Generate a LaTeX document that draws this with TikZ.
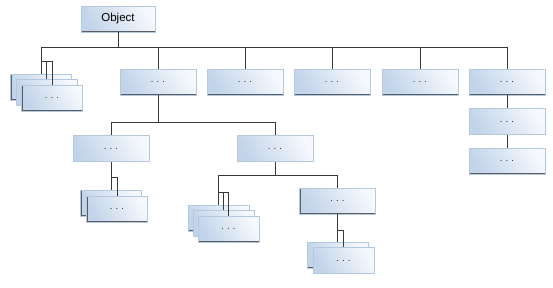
\documentclass[tikz,border=0pt]{standalone}
\usepackage{fontspec}
\setsansfont{Liberation Sans}
\usetikzlibrary{positioning}
\definecolor{boxlo}{HTML}{C2D4EA}
\definecolor{boxhi}{HTML}{F5F8FC}
\definecolor{boxrim}{HTML}{B4C8DE}
\definecolor{boxedge}{HTML}{5A5D62}
\definecolor{wire}{HTML}{383838}
\newcommand{\hid}{.\,\,.\,\,.}
\tikzset{
  cls/.style={draw=boxrim, line width=0.7pt, shade, shading=axis,
              left color=boxlo, right color=boxhi, shading angle=120,
              minimum width=76pt, minimum height=26pt, inner sep=0pt,
              font=\sffamily\fontsize{9.5}{10}\selectfont, text=black!85,
              path picture={\draw[boxedge, line width=2pt]
                (path picture bounding box.north west) --
                (path picture bounding box.south west) --
                (path picture bounding box.south east);}},
  stk/.style={cls, minimum width=61pt},
  wire/.style={draw=wire, line width=0.9pt},
}
\begin{document}
\begin{tikzpicture}[x=1pt, y=-1pt]
  \useasboundingbox (0,0) rectangle (553,287);
  % rows of the connecting lines
  \coordinate (h0) at (0,47);
  \coordinate (k1) at (0,61);
  \coordinate (h1) at (0,122);
  \coordinate (h2) at (0,177);
  \coordinate (h3) at (0,175);
  \coordinate (h4) at (0,192);
  \coordinate (h5) at (0,230);

  \node[cls, minimum width=74pt, font=\sffamily\fontsize{11.5}{13}\selectfont,
        text=black] (obj) at (118,19) {Object};

  % first row
  \node[stk] (s1a) at (41,87) {};
  \node[stk] (s1b) at (46.5,92.5) {};
  \node[stk] (s1c) at (52,98) {\hid};
  \foreach \n/\x in {b1/158, b2/245, b3/332, b4/420, b5/507}
    \node[cls] (\n) at (\x,82) {\hid};
  \node[cls, below=13pt of b5] (b6) {\hid};
  \node[cls, below=13pt of b6] (b7) {\hid};

  % second row
  \node[cls] (c1) at (111,148.5) {\hid};
  \node[cls] (c2) at (275,148.5) {\hid};
  \node[cls] (d1) at (337.5,201) {\hid};

  \node[stk] (u1a) at (111,203) {};
  \node[stk] (u1b) at (117,209) {\hid};
  \node[stk] (v1a) at (218.5,218) {};
  \node[stk] (v1b) at (223.5,223.5) {};
  \node[stk] (v1c) at (228.5,229) {\hid};
  \node[stk] (w1a) at (337.5,255) {};
  \node[stk] (w1b) at (343.5,260.5) {\hid};

  % lines
  \draw[wire] (obj) -- (obj |- h0);
  \draw[wire] (s1a |- h0) -- (b5 |- h0);
  \foreach \n in {s1a,b1,b2,b3,b4,b5}
    \draw[wire] (\n |- h0) -- (\n.north);
  \draw[wire] (s1a |- k1) -| (s1b.north);
  \draw[wire] (s1b |- k1) -| (s1c.north);
  \draw[wire] (b5) -- (b6);
  \draw[wire] (b6) -- (b7);

  \draw[wire] (b1) -- (b1 |- h1);
  \draw[wire] (c1 |- h1) -- (c2 |- h1);
  \draw[wire] (c1 |- h1) -- (c1.north);
  \draw[wire] (c2 |- h1) -- (c2.north);

  \draw[wire] (c1.south) -- (u1a.north);
  \draw[wire] (c1.south |- h2) -| (u1b.north);

  \draw[wire] (c2) -- (c2 |- h3);
  \draw[wire] (v1a |- h3) -- (d1 |- h3);
  \draw[wire] (v1a |- h3) -- (v1a.north);
  \draw[wire] (d1 |- h3) -- (d1.north);
  \draw[wire] (v1a |- h4) -| (v1b.north);
  \draw[wire] (v1b |- h4) -| (v1c.north);

  \draw[wire] (d1.south) -- (w1a.north);
  \draw[wire] (d1.south |- h5) -| (w1b.north);
\end{tikzpicture}
\end{document}
